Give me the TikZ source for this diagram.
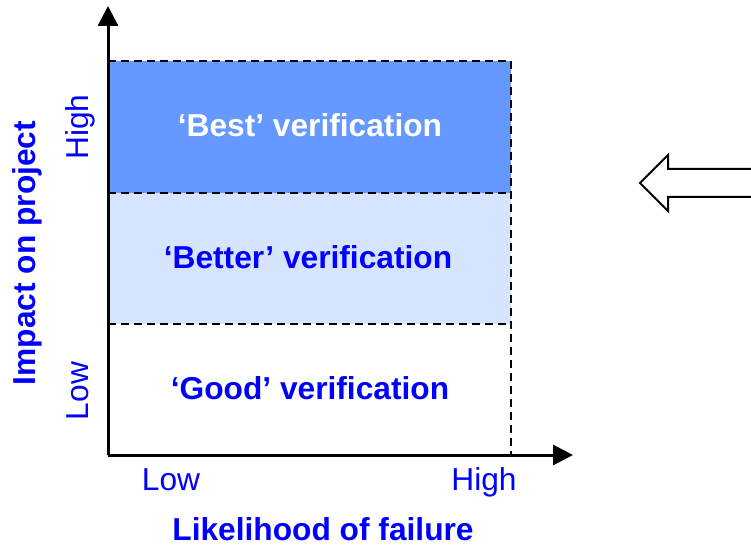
\documentclass[tikz,border=0pt]{standalone}
\usepackage{fontspec}
\setmainfont{Liberation Sans}
\usetikzlibrary{arrows.meta}
\definecolor{txtblue}{RGB}{0,0,255}
\definecolor{bestfill}{RGB}{102,153,255}
\definecolor{betterfill}{RGB}{214,228,255}
\tikzset{
  axisline/.style={line width=3bp, -{Triangle[length=20bp,width=20bp]}},
  bandedge/.style={line width=2.4bp, dash pattern=on 8bp off 5bp},
  bandlabel/.style={font=\fontsize{31.7bp}{38bp}\selectfont\bfseries, text=txtblue, anchor=base, inner sep=0pt},
  ticklabel/.style={font=\fontsize{31.7bp}{38bp}\selectfont, text=txtblue, anchor=base, inner sep=0pt},
  blockarrow/.style={line width=2bp, line join=miter}
}
\begin{document}
\begin{tikzpicture}[x=1bp,y=-1bp]
  \useasboundingbox (0,0) rectangle (751,546);
  % corners of the risk grid
  \coordinate (O) at (108,455);
  \coordinate (TL) at (108,61);
  \coordinate (TR) at (511,61);
  \coordinate (BR) at (511,455);
  \coordinate (M1L) at (108,193);
  \coordinate (M1R) at (511,193);
  \coordinate (M2L) at (108,324);
  \coordinate (M2R) at (511,324);
  \coordinate (ytip) at (108,6);
  \coordinate (xtip) at (573,455);
  % shaded bands
  \fill[bestfill] (TL) rectangle (M1R);
  \fill[betterfill] (M1L) rectangle (M2R);
  % dashed outline and band separators
  \draw[bandedge] (TL) -- (TR) -- (BR);
  \draw[bandedge] (M1L) -- (M1R);
  \draw[bandedge] (M2L) -- (M2R);
  % axes
  \draw[axisline] (O) -- (ytip);
  \draw[axisline] (O) -- (xtip);
  % band labels
  \node[bandlabel, text=white] (best) at (310,137) {‘Best’ verification};
  \node[bandlabel] (better) at (308,269) {‘Better’ verification};
  \node[bandlabel] (good) at (310,399) {‘Good’ verification};
  % axis tick labels
  \node[ticklabel] (xlow) at (171,490) {Low};
  \node[ticklabel] (xhigh) at (484,490) {High};
  \node[ticklabel, rotate=90] (ylow) at (88,391) {Low};
  \node[ticklabel, rotate=90] (yhigh) at (88,127) {High};
  % axis titles
  \node[bandlabel] (xtitle) at (323,540) {Likelihood of failure};
  \node[bandlabel, rotate=90] (ytitle) at (35,253) {Impact on project};
  % hollow block arrow pointing left
  \draw[blockarrow] (751,169) -- (668,169) -- (668,155) -- (640,183)
        -- (668,211) -- (668,197) -- (751,197);
\end{tikzpicture}
\end{document}
